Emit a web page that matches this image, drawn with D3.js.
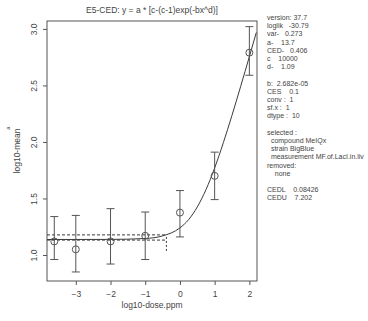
<!DOCTYPE html>
<html>
<head>
<meta charset="utf-8">
<script src="https://cdn.jsdelivr.net/npm/d3@7"></script>
<style>
  body { margin: 0; background: #fff; }
  svg text { font-family: "Liberation Sans", Arial, sans-serif; fill: #444; }
</style>
</head>
<body>
<div id="chart"></div>
<script>
// observed points (log10 dose, log10 mean) with error bar ends
const doseLog = [-3.62, -3, -2, -1, 0, 1, 2];
const meanVals = [1.12, 1.05, 1.12, 1.17, 1.375, 1.70, 2.79];
const lowerVals = [0.96, 0.85, 0.92, 0.96, 1.16, 1.49, 2.59];
const upperVals = [1.34, 1.35, 1.41, 1.38, 1.57, 1.91, 3.02];

// fitted curve
const curveX = [-3.83, -2, -1, -0.5, 0, 0.25, 0.5, 0.75, 1, 1.25, 1.5, 1.75, 2, 2.2];
const curveY = [1.137, 1.138, 1.146, 1.169, 1.240, 1.313, 1.425, 1.578, 1.770, 1.993, 2.236, 2.492, 2.755, 2.968];

// CED marker lines
const cesLevel = 1.178;
const baseLevel = 1.132;
const cedLog = -0.39;
const cedDrop = [1.16, 1.02];

const xTicks = [-3, -2, -1, 0, 1, 2];
const yTicks = [1.0, 1.5, 2.0, 2.5, 3.0];

const titleText = "E5-CED: y = a * [c-(c-1)exp(-bx^d)]";
const infoLines = [
  "version: 37.7", "loglik   -30.79", "var-   0.273", "a-    13.7", "CED-   0.406",
  "c    10000", "d-    1.09", "",
  "b:  2.682e-05", "CES    0.1", "conv :  1", "sf.x :  1", "dtype :  10", "",
  "selected :", "  compound MeIQx", "  strain BigBlue", "  measurement MF.of.LacI.in.liv",
  "removed:", "    none", "",
  "CEDL    0.08426", "CEDU    7.202"
];

const W = 368, H = 321;
const box = { left: 47, right: 257, top: 21, bottom: 281 };

const svg = d3.select("#chart").append("svg")
  .attr("width", W).attr("height", H);

const x = d3.scaleLinear().domain([-3.83, 2.22]).range([box.left, box.right]);
const y = d3.scaleLinear().domain([0.77, 3.07]).range([box.bottom, box.top]);

const ink = "#3a3a3a";

// frame
svg.append("rect")
  .attr("x", box.left).attr("y", box.top)
  .attr("width", box.right - box.left).attr("height", box.bottom - box.top)
  .attr("fill", "none").attr("stroke", "#555").attr("stroke-width", 1);

// axes
const xAxis = svg.append("g")
  .attr("transform", "translate(0," + box.bottom + ")")
  .call(d3.axisBottom(x).tickValues(xTicks).tickSize(4).tickPadding(6)
    .tickFormat(d3.format("d")));
xAxis.select(".domain").remove();
xAxis.selectAll("line").attr("stroke", "#555");
xAxis.selectAll("text").attr("font-size", "8.5px").attr("fill", "#444");

const yAxis = svg.append("g")
  .attr("transform", "translate(" + box.left + ",0)")
  .call(d3.axisLeft(y).tickValues(yTicks).tickSize(4).tickFormat(d3.format(".1f")));
yAxis.select(".domain").remove();
yAxis.selectAll("line").attr("stroke", "#555");
yAxis.selectAll("text")
  .attr("font-size", "8.5px").attr("fill", "#444")
  .attr("text-anchor", "middle")
  .attr("x", 0).attr("dy", 0)
  .attr("transform", "translate(-13,0) rotate(-90)")
  .attr("y", 3);

// labels
svg.append("text")
  .attr("x", (box.left + box.right) / 2).attr("y", 13)
  .attr("text-anchor", "middle").attr("font-size", "8.5px")
  .text(titleText);

svg.append("text")
  .attr("x", (box.left + box.right) / 2).attr("y", 308)
  .attr("text-anchor", "middle").attr("font-size", "8.5px")
  .text("log10-dose.ppm");

svg.append("text")
  .attr("transform", "translate(20," + ((box.top + box.bottom) / 2) + ") rotate(-90)")
  .attr("text-anchor", "middle").attr("font-size", "8.5px")
  .text("log10-mean");

svg.append("text")
  .attr("transform", "translate(10,128) rotate(-90)")
  .attr("text-anchor", "middle").attr("font-size", "6px")
  .text("a");

// dashed CED lines
const dash = "3,2";
svg.append("line")
  .attr("x1", x(-3.83)).attr("x2", x(cedLog))
  .attr("y1", y(cesLevel)).attr("y2", y(cesLevel))
  .attr("stroke", ink).attr("stroke-dasharray", dash);
svg.append("line")
  .attr("x1", x(-3.83)).attr("x2", x(cedLog))
  .attr("y1", y(baseLevel)).attr("y2", y(baseLevel))
  .attr("stroke", ink).attr("stroke-dasharray", dash);
svg.append("line")
  .attr("x1", x(cedLog)).attr("x2", x(cedLog))
  .attr("y1", y(cedDrop[0])).attr("y2", y(cedDrop[1]))
  .attr("stroke", ink).attr("stroke-dasharray", "2,2");

// fitted curve
const curvePts = curveX.map((v, i) => [v, curveY[i]]);
svg.append("path")
  .datum(curvePts)
  .attr("fill", "none").attr("stroke", ink).attr("stroke-width", 1)
  .attr("d", d3.line().x(d => x(d[0])).y(d => y(d[1])).curve(d3.curveMonotoneX));

// error bars and points
const pts = doseLog.map((v, i) => ({ x: v, m: meanVals[i], lo: lowerVals[i], hi: upperVals[i] }));
const g = svg.append("g").attr("stroke", "#555").attr("fill", "none");
g.selectAll(".bar").data(pts).enter().append("line")
  .attr("x1", d => x(d.x)).attr("x2", d => x(d.x))
  .attr("y1", d => y(d.lo)).attr("y2", d => y(d.hi));
g.selectAll(".capHi").data(pts).enter().append("line")
  .attr("x1", d => x(d.x) - 4).attr("x2", d => x(d.x) + 4)
  .attr("y1", d => y(d.hi)).attr("y2", d => y(d.hi));
g.selectAll(".capLo").data(pts).enter().append("line")
  .attr("x1", d => x(d.x) - 4).attr("x2", d => x(d.x) + 4)
  .attr("y1", d => y(d.lo)).attr("y2", d => y(d.lo));
g.selectAll("circle").data(pts).enter().append("circle")
  .attr("cx", d => x(d.x)).attr("cy", d => y(d.m)).attr("r", 3.5);

// info panel
const info = svg.append("text")
  .attr("x", 267).attr("y", 20)
  .attr("font-size", "7px").attr("xml:space", "preserve");
infoLines.forEach((t, i) => {
  info.append("tspan").attr("x", 267).attr("y", 20 + i * 8.2).text(t);
});
</script>
</body>
</html>
